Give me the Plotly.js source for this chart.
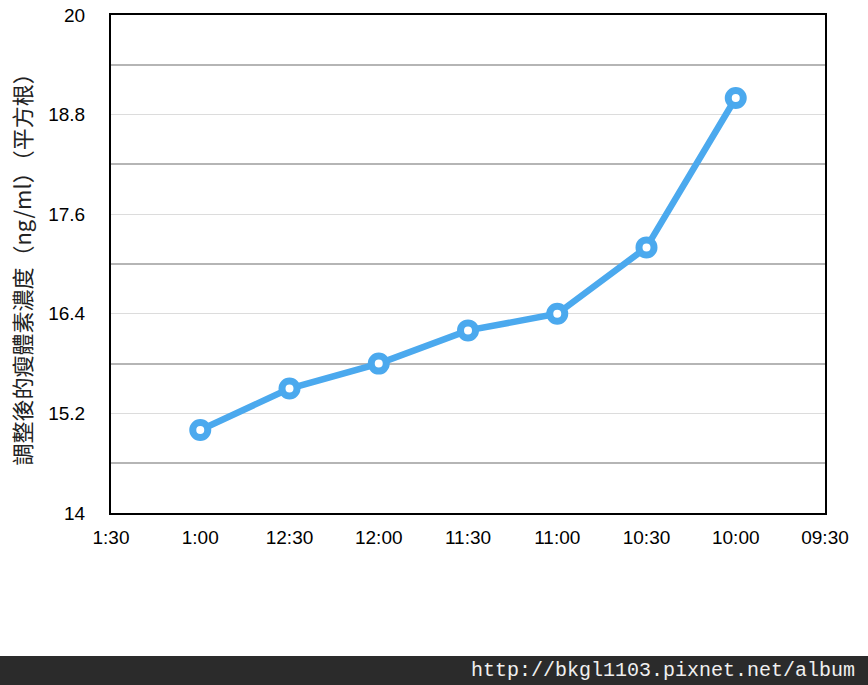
<!DOCTYPE html>
<html><head><meta charset="utf-8">
<script src="https://cdn.plot.ly/plotly-3.0.1.min.js"></script>
<style>html,body{margin:0;padding:0;background:#fff}</style>
</head><body>
<div id="chart" style="width:868px;height:685px"></div>
<script>
const categories = ["1:30","1:00","12:30","12:00","11:30","11:00","10:30","10:00","09:30"];
const pointTimes = ["1:00","12:30","12:00","11:30","11:00","10:30","10:00"];
const leptinValues = [15.0, 15.5, 15.8, 16.2, 16.4, 17.2, 19.0];
const yTicks = [14, 15.2, 16.4, 17.6, 18.8, 20];
const yTitle = "調整後的瘦體素濃度（ng/ml）（平方根）";
const footerText = "http://bkgl1103.pixnet.net/album";

const trace = {
  x: pointTimes, y: leptinValues, type: 'scatter', mode: 'lines+markers',
  line: {color: '#4BA9EE', width: 6.5},
  marker: {symbol: 'circle', size: 15, color: '#ffffff', line: {color: '#4BA9EE', width: 7}},
  cliponaxis: false, hoverinfo: 'skip'
};

const layout = {
  width: 868, height: 685,
  margin: {l: 111, r: 43, t: 15, b: 172},
  paper_bgcolor: '#ffffff', plot_bgcolor: '#ffffff',
  showlegend: false,
  font: {family: 'Liberation Sans, Arial, sans-serif', size: 19, color: '#000'},
  xaxis: {
    type: 'category', categoryorder: 'array', categoryarray: categories,
    tickvals: categories, ticktext: categories,
    range: [0, categories.length - 1],
    showgrid: false, zeroline: false,
    showline: true, linecolor: '#000', linewidth: 2, mirror: true,
    ticks: '', ticklabelstandoff: 6,
    tickfont: {size: 19, family: 'Liberation Sans, Arial, sans-serif'}
  },
  yaxis: {
    range: [14, 20], tickvals: yTicks, ticktext: yTicks.map(String),
    showgrid: true, gridcolor: '#dcdcdc', gridwidth: 1,
    minor: {tickvals: [14.6, 15.8, 17.0, 18.2, 19.4], showgrid: true, gridcolor: '#b5b5b5', gridwidth: 2, ticks: ''},
    zeroline: false,
    showline: true, linecolor: '#000', linewidth: 2, mirror: true,
    ticks: '', ticklabelstandoff: 20,
    tickfont: {size: 19, family: 'Liberation Sans, Arial, sans-serif'},
    title: {text: yTitle, standoff: 11, font: {size: 22, family: 'Noto Sans CJK TC, sans-serif', color: '#222'}}
  },
  shapes: [{
    type: 'rect', xref: 'paper', yref: 'paper',
    x0: -111/714, x1: 757/714, y0: -172/498, y1: -143/498,
    fillcolor: '#2b2b2b', line: {width: 0}, layer: 'above'
  }],
  annotations: [{
    text: footerText, xref: 'paper', yref: 'paper',
    x: 746/714, y: -157.5/498, xanchor: 'right', yanchor: 'middle',
    showarrow: false,
    font: {family: 'Liberation Mono, DejaVu Sans Mono, monospace', size: 20, color: '#f0f0f0'}
  }]
};

Plotly.newPlot('chart', [trace], layout, {displayModeBar: false, staticPlot: true});
</script>
</body></html>
